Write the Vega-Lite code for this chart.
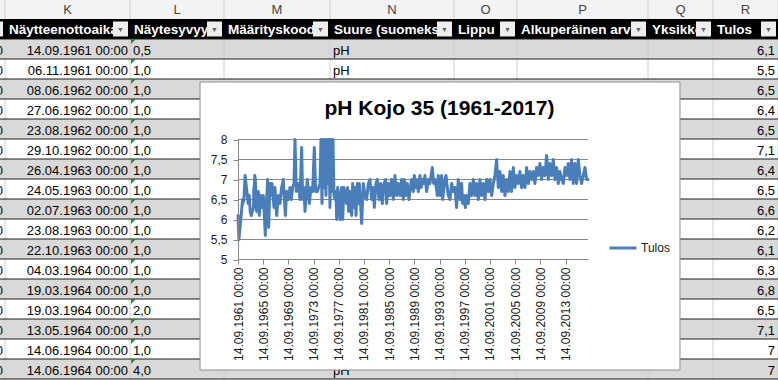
{
  "$schema": "https://vega.github.io/schema/vega-lite/v6.json",
  "width": 778,
  "height": 380,
  "autosize": "none",
  "padding": 0,
  "background": "#ffffff",
  "config": {"view": {"stroke": null}, "font": "Liberation Sans"},
  "datasets": {
    "rivit": [
      {"r": 2, "j": "0", "aika": "14.09.1961 00:00", "syv": "0,5", "suure": "pH", "tulos": "6,1"},
      {"r": 3, "j": "0", "aika": "06.11.1961 00:00", "syv": "1,0", "suure": "pH", "tulos": "5,5"},
      {"r": 4, "j": "0", "aika": "08.06.1962 00:00", "syv": "1,0", "suure": "pH", "tulos": "6,5"},
      {"r": 5, "j": "0", "aika": "27.06.1962 00:00", "syv": "1,0", "suure": "pH", "tulos": "6,4"},
      {"r": 6, "j": "0", "aika": "23.08.1962 00:00", "syv": "1,0", "suure": "pH", "tulos": "6,5"},
      {"r": 7, "j": "0", "aika": "29.10.1962 00:00", "syv": "1,0", "suure": "pH", "tulos": "7,1"},
      {"r": 8, "j": "0", "aika": "26.04.1963 00:00", "syv": "1,0", "suure": "pH", "tulos": "6,4"},
      {"r": 9, "j": "0", "aika": "24.05.1963 00:00", "syv": "1,0", "suure": "pH", "tulos": "6,5"},
      {"r": 10, "j": "0", "aika": "02.07.1963 00:00", "syv": "1,0", "suure": "pH", "tulos": "6,6"},
      {"r": 11, "j": "0", "aika": "23.08.1963 00:00", "syv": "1,0", "suure": "pH", "tulos": "6,2"},
      {"r": 12, "j": "0", "aika": "22.10.1963 00:00", "syv": "1,0", "suure": "pH", "tulos": "6,1"},
      {"r": 13, "j": "0", "aika": "04.03.1964 00:00", "syv": "1,0", "suure": "pH", "tulos": "6,3"},
      {"r": 14, "j": "0", "aika": "19.03.1964 00:00", "syv": "1,0", "suure": "pH", "tulos": "6,8"},
      {"r": 15, "j": "0", "aika": "19.03.1964 00:00", "syv": "2,0", "suure": "pH", "tulos": "6,5"},
      {"r": 16, "j": "0", "aika": "13.05.1964 00:00", "syv": "1,0", "suure": "pH", "tulos": "7,1"},
      {"r": 17, "j": "0", "aika": "14.06.1964 00:00", "syv": "1,0", "suure": "pH", "tulos": "7"},
      {"r": 18, "j": "0", "aika": "14.06.1964 00:00", "syv": "4,0", "suure": "pH", "tulos": "7"}
    ],
    "sarakkeet": [
      {"left": 0, "right": 1},
      {"left": 1, "mid": 1.5, "right": 2, "letter": "K", "otsikko": "Näytteenottoaika"},
      {"left": 2, "mid": 2.5, "right": 3, "letter": "L", "otsikko": "Näytesyvyys"},
      {"left": 3, "mid": 3.5, "right": 4, "letter": "M", "otsikko": "Määrityskoodi"},
      {"left": 4, "mid": 4.5, "right": 5, "letter": "N", "otsikko": "Suure (suomeksi"},
      {"left": 5, "mid": 5.5, "right": 6, "letter": "O", "otsikko": "Lippu"},
      {"left": 6, "mid": 6.5, "right": 7, "letter": "P", "otsikko": "Alkuperäinen arvo"},
      {"left": 7, "mid": 7.5, "right": 8, "letter": "Q", "otsikko": "Yksikkö"},
      {"left": 8, "mid": 8.5, "right": 9, "letter": "R", "otsikko": "Tulos"}
    ],
    "ruudukko": [{"g": 5}, {"g": 5.5}, {"g": 6}, {"g": 6.5}, {"g": 7}, {"g": 7.5}, {"g": 8}],
    "ph": [
      {"aika": "1961-09-14", "tulos": 6.1},
      {"aika": "1961-11-06", "tulos": 5.5},
      {"aika": "1962-06-08", "tulos": 6.5},
      {"aika": "1962-06-27", "tulos": 6.4},
      {"aika": "1962-08-23", "tulos": 6.5},
      {"aika": "1962-10-29", "tulos": 7.1},
      {"aika": "1963-04-26", "tulos": 6.4},
      {"aika": "1963-05-24", "tulos": 6.5},
      {"aika": "1963-07-02", "tulos": 6.6},
      {"aika": "1963-08-23", "tulos": 6.2},
      {"aika": "1963-10-22", "tulos": 6.1},
      {"aika": "1964-03-04", "tulos": 6.3},
      {"aika": "1964-03-19", "tulos": 6.8},
      {"aika": "1964-03-19", "tulos": 6.5},
      {"aika": "1964-05-13", "tulos": 7.1},
      {"aika": "1964-06-14", "tulos": 7.0},
      {"aika": "1964-06-14", "tulos": 7.0},
      {"aika": "1964-08-29", "tulos": 6.2},
      {"aika": "1964-12-05", "tulos": 6.7},
      {"aika": "1965-02-01", "tulos": 6.1},
      {"aika": "1965-04-18", "tulos": 6.6},
      {"aika": "1965-07-24", "tulos": 6.3},
      {"aika": "1965-09-21", "tulos": 6.6},
      {"aika": "1966-01-15", "tulos": 5.6},
      {"aika": "1966-02-22", "tulos": 6.2},
      {"aika": "1966-05-29", "tulos": 7.0},
      {"aika": "1966-07-26", "tulos": 5.8},
      {"aika": "1966-10-12", "tulos": 6.9},
      {"aika": "1966-12-09", "tulos": 6.6},
      {"aika": "1967-02-05", "tulos": 6.9},
      {"aika": "1967-06-01", "tulos": 6.3},
      {"aika": "1967-07-28", "tulos": 6.8},
      {"aika": "1967-11-02", "tulos": 6.1},
      {"aika": "1968-02-07", "tulos": 6.6},
      {"aika": "1968-05-14", "tulos": 6.4},
      {"aika": "1968-08-19", "tulos": 6.8},
      {"aika": "1968-11-24", "tulos": 7.0},
      {"aika": "1969-03-20", "tulos": 6.1},
      {"aika": "1969-06-05", "tulos": 6.7},
      {"aika": "1969-09-09", "tulos": 6.5},
      {"aika": "1969-12-14", "tulos": 6.8},
      {"aika": "1970-03-02", "tulos": 6.5},
      {"aika": "1970-05-18", "tulos": 6.8},
      {"aika": "1970-08-04", "tulos": 6.9},
      {"aika": "1970-10-01", "tulos": 8.4},
      {"aika": "1970-12-16", "tulos": 6.7},
      {"aika": "1971-04-11", "tulos": 6.9},
      {"aika": "1971-07-17", "tulos": 6.5},
      {"aika": "1971-10-22", "tulos": 7.8},
      {"aika": "1971-12-19", "tulos": 6.5},
      {"aika": "1972-03-06", "tulos": 6.8},
      {"aika": "1972-05-02", "tulos": 6.2},
      {"aika": "1972-09-15", "tulos": 7.0},
      {"aika": "1973-01-09", "tulos": 6.4},
      {"aika": "1973-04-16", "tulos": 6.8},
      {"aika": "1973-07-21", "tulos": 6.7},
      {"aika": "1973-10-26", "tulos": 7.8},
      {"aika": "1974-01-11", "tulos": 6.7},
      {"aika": "1974-04-18", "tulos": 6.7},
      {"aika": "1974-07-03", "tulos": 6.8},
      {"aika": "1974-09-19", "tulos": 6.9},
      {"aika": "1974-11-16", "tulos": 8.5},
      {"aika": "1975-01-13", "tulos": 6.4},
      {"aika": "1975-03-12", "tulos": 8.6},
      {"aika": "1975-05-09", "tulos": 6.8},
      {"aika": "1975-07-06", "tulos": 8.3},
      {"aika": "1975-09-02", "tulos": 6.6},
      {"aika": "1975-10-30", "tulos": 8.7},
      {"aika": "1975-12-27", "tulos": 6.9},
      {"aika": "1976-02-22", "tulos": 8.4},
      {"aika": "1976-04-20", "tulos": 6.3},
      {"aika": "1976-06-17", "tulos": 8.5},
      {"aika": "1976-08-14", "tulos": 6.7},
      {"aika": "1976-10-11", "tulos": 8.2},
      {"aika": "1976-12-08", "tulos": 6.6},
      {"aika": "1977-02-05", "tulos": 6.5},
      {"aika": "1977-04-04", "tulos": 6.7},
      {"aika": "1977-05-12", "tulos": 6.0},
      {"aika": "1977-07-09", "tulos": 6.8},
      {"aika": "1977-09-25", "tulos": 6.6},
      {"aika": "1977-11-21", "tulos": 6.0},
      {"aika": "1978-02-26", "tulos": 6.8},
      {"aika": "1978-04-25", "tulos": 6.0},
      {"aika": "1978-07-11", "tulos": 6.8},
      {"aika": "1978-09-27", "tulos": 6.6},
      {"aika": "1978-12-13", "tulos": 6.4},
      {"aika": "1979-02-09", "tulos": 6.8},
      {"aika": "1979-04-08", "tulos": 6.2},
      {"aika": "1979-06-24", "tulos": 6.7},
      {"aika": "1979-09-29", "tulos": 6.1},
      {"aika": "1979-11-26", "tulos": 6.9},
      {"aika": "1980-02-11", "tulos": 6.3},
      {"aika": "1980-04-10", "tulos": 6.8},
      {"aika": "1980-06-07", "tulos": 6.1},
      {"aika": "1980-08-23", "tulos": 6.9},
      {"aika": "1980-10-20", "tulos": 6.4},
      {"aika": "1980-12-17", "tulos": 6.9},
      {"aika": "1981-02-13", "tulos": 6.5},
      {"aika": "1981-05-01", "tulos": 5.9},
      {"aika": "1981-08-05", "tulos": 6.9},
      {"aika": "1981-11-10", "tulos": 6.6},
      {"aika": "1982-02-15", "tulos": 6.5},
      {"aika": "1982-05-22", "tulos": 6.9},
      {"aika": "1982-08-27", "tulos": 7.0},
      {"aika": "1982-12-01", "tulos": 6.5},
      {"aika": "1983-03-08", "tulos": 6.8},
      {"aika": "1983-05-05", "tulos": 6.3},
      {"aika": "1983-08-09", "tulos": 6.9},
      {"aika": "1983-10-25", "tulos": 7.0},
      {"aika": "1984-01-30", "tulos": 6.5},
      {"aika": "1984-05-06", "tulos": 6.9},
      {"aika": "1984-08-11", "tulos": 6.4},
      {"aika": "1984-11-16", "tulos": 6.9},
      {"aika": "1985-02-21", "tulos": 7.0},
      {"aika": "1985-04-19", "tulos": 6.4},
      {"aika": "1985-07-24", "tulos": 6.9},
      {"aika": "1985-10-29", "tulos": 6.6},
      {"aika": "1986-02-03", "tulos": 7.0},
      {"aika": "1986-05-10", "tulos": 6.5},
      {"aika": "1986-08-14", "tulos": 7.1},
      {"aika": "1986-11-19", "tulos": 6.6},
      {"aika": "1987-02-24", "tulos": 6.9},
      {"aika": "1987-06-01", "tulos": 6.6},
      {"aika": "1987-09-05", "tulos": 7.0},
      {"aika": "1987-12-10", "tulos": 6.5},
      {"aika": "1988-02-07", "tulos": 7.0},
      {"aika": "1988-04-24", "tulos": 6.6},
      {"aika": "1988-07-30", "tulos": 6.9},
      {"aika": "1988-11-04", "tulos": 6.5},
      {"aika": "1989-01-21", "tulos": 6.8},
      {"aika": "1989-04-08", "tulos": 7.0},
      {"aika": "1989-07-13", "tulos": 6.7},
      {"aika": "1989-09-09", "tulos": 7.1},
      {"aika": "1989-11-25", "tulos": 6.8},
      {"aika": "1990-01-22", "tulos": 7.0},
      {"aika": "1990-04-28", "tulos": 6.7},
      {"aika": "1990-08-03", "tulos": 7.1},
      {"aika": "1990-10-20", "tulos": 6.8},
      {"aika": "1991-01-05", "tulos": 7.0},
      {"aika": "1991-03-04", "tulos": 6.9},
      {"aika": "1991-05-20", "tulos": 7.1},
      {"aika": "1991-08-25", "tulos": 6.7},
      {"aika": "1991-11-29", "tulos": 7.0},
      {"aika": "1992-03-05", "tulos": 6.9},
      {"aika": "1992-07-19", "tulos": 7.3},
      {"aika": "1992-10-04", "tulos": 6.9},
      {"aika": "1992-12-20", "tulos": 7.0},
      {"aika": "1993-03-08", "tulos": 6.8},
      {"aika": "1993-05-05", "tulos": 6.6},
      {"aika": "1993-07-02", "tulos": 7.1},
      {"aika": "1993-10-06", "tulos": 6.6},
      {"aika": "1994-01-11", "tulos": 7.1},
      {"aika": "1994-03-10", "tulos": 6.5},
      {"aika": "1994-06-14", "tulos": 6.9},
      {"aika": "1994-09-19", "tulos": 7.1},
      {"aika": "1994-12-05", "tulos": 6.8},
      {"aika": "1995-02-01", "tulos": 6.6},
      {"aika": "1995-05-08", "tulos": 6.5},
      {"aika": "1995-08-12", "tulos": 6.9},
      {"aika": "1995-11-16", "tulos": 6.7},
      {"aika": "1996-02-21", "tulos": 6.8},
      {"aika": "1996-05-28", "tulos": 6.3},
      {"aika": "1996-09-02", "tulos": 7.0},
      {"aika": "1996-12-07", "tulos": 6.5},
      {"aika": "1997-03-14", "tulos": 6.9},
      {"aika": "1997-05-11", "tulos": 6.4},
      {"aika": "1997-07-27", "tulos": 6.6},
      {"aika": "1997-10-13", "tulos": 6.3},
      {"aika": "1997-12-29", "tulos": 6.6},
      {"aika": "1998-04-05", "tulos": 6.4},
      {"aika": "1998-07-10", "tulos": 6.9},
      {"aika": "1998-10-15", "tulos": 6.6},
      {"aika": "1999-01-19", "tulos": 7.0},
      {"aika": "1999-04-26", "tulos": 6.6},
      {"aika": "1999-07-31", "tulos": 6.9},
      {"aika": "1999-11-05", "tulos": 6.5},
      {"aika": "2000-02-10", "tulos": 7.0},
      {"aika": "2000-05-17", "tulos": 6.6},
      {"aika": "2000-08-21", "tulos": 6.9},
      {"aika": "2000-11-26", "tulos": 6.5},
      {"aika": "2001-03-03", "tulos": 7.0},
      {"aika": "2001-06-08", "tulos": 6.7},
      {"aika": "2001-09-12", "tulos": 7.0},
      {"aika": "2001-12-18", "tulos": 6.6},
      {"aika": "2002-03-24", "tulos": 6.9},
      {"aika": "2002-06-28", "tulos": 7.1},
      {"aika": "2002-10-03", "tulos": 7.5},
      {"aika": "2003-01-08", "tulos": 6.8},
      {"aika": "2003-04-14", "tulos": 7.2},
      {"aika": "2003-07-19", "tulos": 6.7},
      {"aika": "2003-10-24", "tulos": 7.1},
      {"aika": "2004-01-29", "tulos": 6.6},
      {"aika": "2004-05-05", "tulos": 7.0},
      {"aika": "2004-08-10", "tulos": 6.7},
      {"aika": "2004-11-14", "tulos": 7.2},
      {"aika": "2005-02-19", "tulos": 6.7},
      {"aika": "2005-05-27", "tulos": 7.3},
      {"aika": "2005-08-31", "tulos": 6.8},
      {"aika": "2005-12-05", "tulos": 7.1},
      {"aika": "2006-03-12", "tulos": 6.9},
      {"aika": "2006-06-17", "tulos": 7.2},
      {"aika": "2006-09-21", "tulos": 6.8},
      {"aika": "2006-12-27", "tulos": 7.1},
      {"aika": "2007-04-03", "tulos": 6.8},
      {"aika": "2007-07-08", "tulos": 7.3},
      {"aika": "2007-10-12", "tulos": 6.9},
      {"aika": "2008-01-17", "tulos": 7.2},
      {"aika": "2008-04-23", "tulos": 7.0},
      {"aika": "2008-07-29", "tulos": 7.2},
      {"aika": "2008-11-02", "tulos": 6.9},
      {"aika": "2009-02-08", "tulos": 7.3},
      {"aika": "2009-05-15", "tulos": 7.1},
      {"aika": "2009-08-19", "tulos": 7.4},
      {"aika": "2009-11-23", "tulos": 7.0},
      {"aika": "2010-03-01", "tulos": 7.3},
      {"aika": "2010-06-05", "tulos": 7.1},
      {"aika": "2010-09-10", "tulos": 7.6},
      {"aika": "2010-12-15", "tulos": 7.0},
      {"aika": "2011-03-23", "tulos": 7.4},
      {"aika": "2011-06-27", "tulos": 7.1},
      {"aika": "2011-10-01", "tulos": 7.5},
      {"aika": "2012-01-06", "tulos": 7.0},
      {"aika": "2012-04-12", "tulos": 7.3},
      {"aika": "2012-07-17", "tulos": 6.9},
      {"aika": "2012-10-22", "tulos": 7.2},
      {"aika": "2013-01-27", "tulos": 7.0},
      {"aika": "2013-05-03", "tulos": 6.9},
      {"aika": "2013-08-08", "tulos": 7.3},
      {"aika": "2013-11-12", "tulos": 7.1},
      {"aika": "2014-02-17", "tulos": 7.4},
      {"aika": "2014-05-24", "tulos": 7.0},
      {"aika": "2014-08-28", "tulos": 7.5},
      {"aika": "2014-12-03", "tulos": 6.9},
      {"aika": "2015-03-10", "tulos": 7.4},
      {"aika": "2015-06-15", "tulos": 6.9},
      {"aika": "2015-09-19", "tulos": 7.5},
      {"aika": "2015-12-25", "tulos": 7.1},
      {"aika": "2016-03-31", "tulos": 6.9},
      {"aika": "2016-07-05", "tulos": 7.1},
      {"aika": "2016-10-10", "tulos": 7.3},
      {"aika": "2017-01-15", "tulos": 7.0},
      {"aika": "2017-04-05", "tulos": 7.0}
    ]
  },
  "resolve": {"scale": {"x": "independent", "y": "independent"}},
  "layer": [
    {
      "layer": [
        {
          "data": {"name": "rivit"},
          "mark": {"type": "rect"},
          "encoding": {
            "y": {"field": "r", "type": "ordinal", "axis": null, "scale": {"type": "band", "domain": [0,1,2,3,4,5,6,7,8,9,10,11,12,13,14,15,16,17,18], "range": [-1, 379], "paddingInner": 0, "paddingOuter": 0}},
            "color": {"condition": {"test": "datum.r % 2 == 0", "value": "#d9d9d9"}, "value": "#ffffff"}
          }
        },
        {
          "data": {"name": "sarakkeet"},
          "mark": {"type": "rect", "color": "#f3f3f3"},
          "encoding": {
            "x": {"field": "left", "type": "quantitative", "axis": null, "scale": {"type": "linear", "domain": [0,1,2,3,4,5,6,7,8,9], "range": [-120,5,130,224,330,454,517,648,713,778], "nice": false, "zero": false}},
            "x2": {"field": "right"},
            "y": {"datum": 0, "type": "ordinal", "axis": null, "scale": {"type": "band", "domain": [0,1,2,3,4,5,6,7,8,9,10,11,12,13,14,15,16,17,18], "range": [-1, 379], "paddingInner": 0, "paddingOuter": 0}}
          }
        },
        {
          "data": {"name": "sarakkeet"},
          "mark": {"type": "rule", "color": "#d0d0d0", "strokeWidth": 1},
          "encoding": {
            "x": {"field": "right", "type": "quantitative", "axis": null, "scale": {"type": "linear", "domain": [0,1,2,3,4,5,6,7,8,9], "range": [-120,5,130,224,330,454,517,648,713,778], "nice": false, "zero": false}}
          }
        },
        {
          "data": {"name": "sarakkeet"},
          "mark": {"type": "rect", "color": "#000000"},
          "encoding": {
            "x": {"field": "left", "type": "quantitative", "axis": null},
            "x2": {"field": "right"},
            "y": {"datum": 1, "type": "ordinal", "axis": null}
          }
        },
        {
          "data": {"name": "rivit"},
          "mark": {"type": "rule", "color": "#1a1a1a", "strokeWidth": 1},
          "encoding": {
            "y": {"field": "r", "type": "ordinal", "bandPosition": 0, "axis": null}
          }
        },
        {
          "data": {"name": "rivit"},
          "transform": [{"filter": "datum.r == 18"}],
          "mark": {"type": "rule", "color": "#1a1a1a", "strokeWidth": 1},
          "encoding": {
            "y": {"field": "r", "type": "ordinal", "bandPosition": 1, "axis": null}
          }
        },
        {
          "data": {"name": "sarakkeet"},
          "transform": [{"filter": "datum.letter"}],
          "mark": {"type": "text", "font": "Liberation Sans", "fontSize": 13, "color": "#444444", "align": "center", "baseline": "middle", "dy": 1},
          "encoding": {
            "x": {"field": "mid", "type": "quantitative", "axis": null},
            "y": {"datum": 0, "type": "ordinal", "axis": null},
            "text": {"field": "letter"}
          }
        },
        {
          "data": {"name": "sarakkeet"},
          "transform": [{"filter": "datum.otsikko"}],
          "mark": {"type": "text", "font": "Liberation Sans", "fontSize": 13.5, "fontWeight": "bold", "color": "#ffffff", "align": "left", "baseline": "middle", "dx": 4, "dy": 1},
          "encoding": {
            "x": {"field": "left", "type": "quantitative", "axis": null},
            "y": {"datum": 1, "type": "ordinal", "axis": null},
            "text": {"field": "otsikko"}
          }
        },
        {
          "data": {"name": "sarakkeet"},
          "mark": {"type": "square", "size": 225, "filled": true, "fill": "#eeeeee", "opacity": 1, "xOffset": -9.5},
          "encoding": {
            "x": {"field": "right", "type": "quantitative", "axis": null},
            "y": {"datum": 1, "type": "ordinal", "axis": null}
          }
        },
        {
          "data": {"name": "sarakkeet"},
          "mark": {"type": "point", "shape": "triangle-down", "size": 20, "filled": true, "fill": "#666666", "opacity": 1, "xOffset": -9.5, "yOffset": 1},
          "encoding": {
            "x": {"field": "right", "type": "quantitative", "axis": null},
            "y": {"datum": 1, "type": "ordinal", "axis": null}
          }
        },
        {
          "data": {"name": "rivit"},
          "mark": {"type": "text", "font": "Liberation Sans", "fontSize": 13, "color": "#000000", "align": "right", "baseline": "middle", "dx": -2, "dy": 1.5},
          "encoding": {
            "x": {"datum": 1, "type": "quantitative", "axis": null},
            "y": {"field": "r", "type": "ordinal", "axis": null},
            "text": {"field": "j"}
          }
        },
        {
          "data": {"name": "rivit"},
          "mark": {"type": "text", "font": "Liberation Sans", "fontSize": 13, "color": "#000000", "align": "right", "baseline": "middle", "dx": -2, "dy": 1.5},
          "encoding": {
            "x": {"datum": 2, "type": "quantitative", "axis": null},
            "y": {"field": "r", "type": "ordinal", "axis": null},
            "text": {"field": "aika"}
          }
        },
        {
          "data": {"name": "rivit"},
          "mark": {"type": "text", "font": "Liberation Sans", "fontSize": 13, "color": "#000000", "align": "left", "baseline": "middle", "dx": 3, "dy": 1.5},
          "encoding": {
            "x": {"datum": 2, "type": "quantitative", "axis": null},
            "y": {"field": "r", "type": "ordinal", "axis": null},
            "text": {"field": "syv"}
          }
        },
        {
          "data": {"name": "rivit"},
          "transform": [{"filter": "datum.r <= 3 || datum.r == 18"}],
          "mark": {"type": "text", "font": "Liberation Sans", "fontSize": 13, "color": "#000000", "align": "left", "baseline": "middle", "dx": 3, "dy": 1.5},
          "encoding": {
            "x": {"datum": 4, "type": "quantitative", "axis": null},
            "y": {"field": "r", "type": "ordinal", "axis": null},
            "text": {"field": "suure"}
          }
        },
        {
          "data": {"name": "rivit"},
          "mark": {"type": "text", "font": "Liberation Sans", "fontSize": 13, "color": "#000000", "align": "right", "baseline": "middle", "dx": -3, "dy": 1.5},
          "encoding": {
            "x": {"datum": 9, "type": "quantitative", "axis": null},
            "y": {"field": "r", "type": "ordinal", "axis": null},
            "text": {"field": "tulos"}
          }
        },
        {
          "data": {"name": "rivit"},
          "mark": {"type": "point", "shape": "M -1 -1 L 1 -1 L -1 1 Z", "size": 25, "filled": true, "fill": "#1e8c3a", "opacity": 1, "xOffset": 3.5, "yOffset": -7.5},
          "encoding": {
            "x": {"datum": 2, "type": "quantitative", "axis": null},
            "y": {"field": "r", "type": "ordinal", "axis": null}
          }
        }
      ]
    },
    {
      "data": {"values": [{"otsikko": "pH Kojo 35 (1961-2017)"}]},
      "layer": [
        {
          "mark": {"type": "rect", "fill": "#ffffff", "stroke": "#8e8e8e", "strokeWidth": 1},
          "encoding": {
            "x": {"datum": 2.745, "type": "quantitative", "axis": null, "scale": {"type": "linear", "domain": [0,1,2,3,4,5,6,7,8,9], "range": [-120,5,130,224,330,454,517,648,713,778], "nice": false, "zero": false}},
            "x2": {"datum": 7.492},
            "y": {"datum": 4.15, "type": "quantitative", "axis": null, "scale": {"type": "linear", "domain": [0, 19], "range": [-1, 379], "nice": false, "zero": false}},
            "y2": {"datum": 18.55}
          }
        },
        {
          "mark": {"type": "text", "font": "Liberation Sans", "fontSize": 21, "fontWeight": "bold", "color": "#000000", "align": "center", "baseline": "middle"},
          "encoding": {
            "x": {"datum": 4.883, "type": "quantitative", "axis": null},
            "y": {"datum": 5.5, "type": "quantitative", "axis": null},
            "text": {"field": "otsikko"}
          }
        }
      ]
    },
    {
      "layer": [
        {
          "data": {"name": "ruudukko"},
          "mark": {"type": "rule", "color": "#868686", "strokeWidth": 1},
          "encoding": {
            "y": {"field": "g", "type": "quantitative", "scale": {"domain": [5, 8], "range": [259.5, 139.5], "clamp": true, "nice": false, "zero": false},
              "axis": {"orient": "left", "offset": -238, "zindex": 2, "values": [5, 5.5, 6, 6.5, 7, 7.5, 8], "labelExpr": "replace(toString(datum.value), '.', ',')", "labelFont": "Liberation Sans", "labelFontSize": 12, "labelColor": "#1a1a1a", "tickSize": 5, "tickColor": "#868686", "domainColor": "#868686", "labelPadding": 6, "grid": false, "title": null, "labelOverlap": false, "labelFlush": false, "labelBound": false}},
            "x": {"datum": {"year": 1961, "month": 9, "date": 14, "utc": true}, "type": "temporal",
              "scale": {"type": "utc", "domain": [{"year": 1961, "month": 9, "date": 14, "utc": true}, {"year": 2017, "month": 4, "date": 5, "utc": true}], "range": [238, 588], "nice": false},
              "axis": {"orient": "bottom", "offset": -121, "zindex": 2, "values": [
                {"year": 1961, "month": 9, "date": 14, "utc": true},
                {"year": 1965, "month": 9, "date": 14, "utc": true},
                {"year": 1969, "month": 9, "date": 14, "utc": true},
                {"year": 1973, "month": 9, "date": 14, "utc": true},
                {"year": 1977, "month": 9, "date": 14, "utc": true},
                {"year": 1981, "month": 9, "date": 14, "utc": true},
                {"year": 1985, "month": 9, "date": 14, "utc": true},
                {"year": 1989, "month": 9, "date": 14, "utc": true},
                {"year": 1993, "month": 9, "date": 14, "utc": true},
                {"year": 1997, "month": 9, "date": 14, "utc": true},
                {"year": 2001, "month": 9, "date": 14, "utc": true},
                {"year": 2005, "month": 9, "date": 14, "utc": true},
                {"year": 2009, "month": 9, "date": 14, "utc": true},
                {"year": 2013, "month": 9, "date": 14, "utc": true}
              ], "format": "%d.%m.%Y %H:%M", "labelAngle": -90, "labelFont": "Liberation Sans", "labelFontSize": 12, "labelColor": "#1a1a1a", "tickSize": 5, "tickColor": "#868686", "domainColor": "#868686", "labelPadding": 3, "grid": false, "title": null, "labelOverlap": false, "labelFlush": false, "labelBound": false}},
            "x2": {"datum": {"year": 2017, "month": 4, "date": 5, "utc": true}}
          }
        },
        {
          "data": {"name": "ph"},
          "mark": {"type": "line", "strokeWidth": 3, "strokeJoin": "round", "strokeCap": "round"},
          "encoding": {
            "x": {"field": "aika", "type": "temporal"},
            "y": {"field": "tulos", "type": "quantitative"},
            "color": {"datum": "Tulos", "type": "nominal", "scale": {"range": ["#4a7ebb"]},
              "legend": {"orient": "none", "legendX": 608, "legendY": 233, "title": null, "symbolType": "stroke", "symbolSize": 729, "symbolStrokeWidth": 3, "labelFont": "Liberation Sans", "labelFontSize": 12, "labelColor": "#1a1a1a", "labelOffset": 3, "padding": 0}}
          }
        }
      ]
    }
  ]
}
